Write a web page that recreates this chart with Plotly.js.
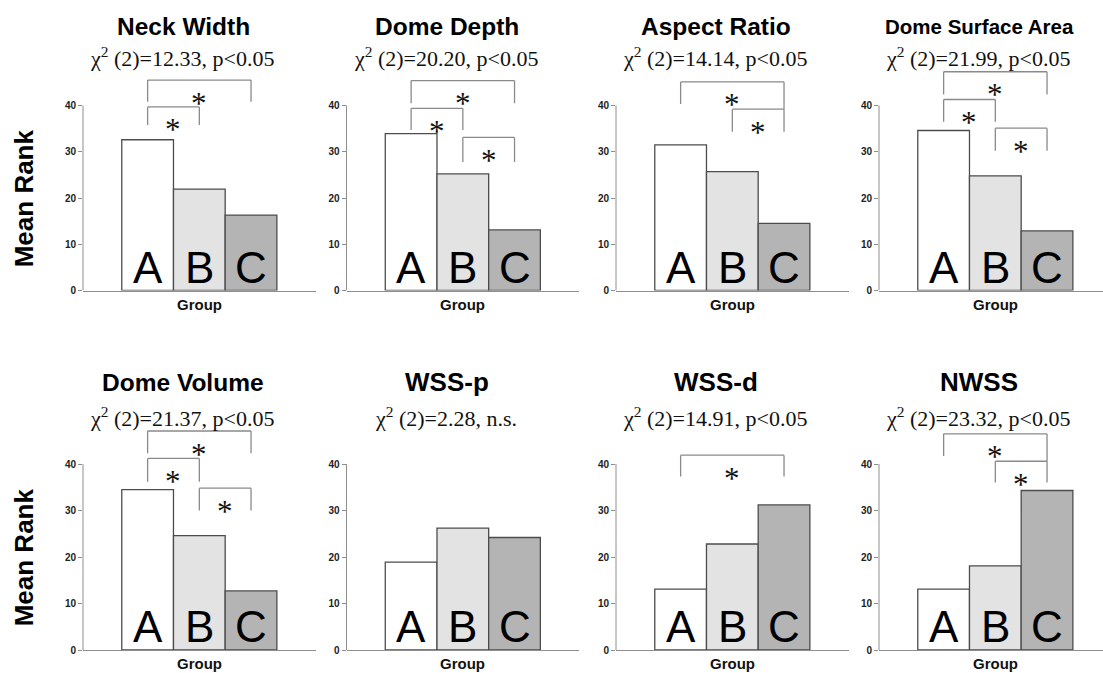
<!DOCTYPE html>
<html><head><meta charset="utf-8">
<script src="https://cdn.plot.ly/plotly-3.0.1.min.js"></script>
<style>html,body{margin:0;padding:0;background:#fff}#chart{width:1103px;height:673px}</style>
</head><body><div id="chart"></div>
<script>
// ---------- data ----------
const groups = ['A', 'B', 'C'];
const titles = ['Neck Width', 'Dome Depth', 'Aspect Ratio', 'Dome Surface Area',
                'Dome Volume', 'WSS-p', 'WSS-d', 'NWSS'];
const stats = ['χ<sup>2</sup> (2)=12.33, p&lt;0.05', 'χ<sup>2</sup> (2)=20.20, p&lt;0.05',
               'χ<sup>2</sup> (2)=14.14, p&lt;0.05', 'χ<sup>2</sup> (2)=21.99, p&lt;0.05',
               'χ<sup>2</sup> (2)=21.37, p&lt;0.05', 'χ<sup>2</sup> (2)=2.28, n.s.',
               'χ<sup>2</sup> (2)=14.91, p&lt;0.05', 'χ<sup>2</sup> (2)=23.32, p&lt;0.05'];
const neckWidth   = [32.6, 21.9, 16.3];
const domeDepth   = [33.9, 25.2, 13.1];
const aspectRatio = [31.5, 25.7, 14.5];
const domeSurface = [34.6, 24.8, 12.9];
const domeVolume  = [34.5, 24.6, 12.7];
const wssP        = [18.9, 26.2, 24.2];
const wssD        = [13.1, 22.8, 31.2];
const nwss        = [13.1, 18.1, 34.3];
const panelValues = [neckWidth, domeDepth, aspectRatio, domeSurface, domeVolume, wssP, wssD, nwss];
// significance brackets: [fromGroup, toGroup, top, leftLegEnd, rightLegEnd] (mean-rank units)
const brNeckWidth   = [[0, 2, 45.5, 40.8, 40.8], [0, 1, 39.7, 35.8, 35.8]];
const brDomeDepth   = [[0, 2, 45.4, 40.5, 40.5], [0, 1, 39.4, 34.7, 34.7], [1, 2, 33.1, 27.8, 27.8]];
const brAspectRatio = [[0, 2, 45.1, 40.3, 39.2], [1, 2, 39.2, 34.3, 34.3]];
const brDomeSurface = [[0, 2, 47.3, 42.4, 42.4], [0, 1, 41.3, 36.5, 36.5], [1, 2, 35.1, 30.2, 30.2]];
const brDomeVolume  = [[0, 2, 47.1, 42.3, 42.3], [0, 1, 41.2, 36.2, 36.2], [1, 2, 34.8, 30.0, 30.0]];
const brWssP        = [];
const brWssD        = [[0, 2, 41.9, 37.3, 37.3]];
const brNwss        = [[0, 2, 46.5, 41.7, 40.6], [1, 2, 40.6, 36.0, 36.0]];
const panelBrackets = [brNeckWidth, brDomeDepth, brAspectRatio, brDomeSurface,
                       brDomeVolume, brWssP, brWssD, brNwss];
const yTicks = [0, 10, 20, 30, 40];
const yLabel = 'Mean Rank';
const xLabel = 'Group';

// ---------- layout geometry ----------
const W = 1103, H = 673;
const colLeft = [83, 346.5, 616, 879];
const unit = 51.7;
const rowZero = [290.5, 650];
const rowTop = [66.2, 424.5];
const yMax = 48.5;
const titleMid = [26.4, 382.4];
const statMid = [56.6, 416.6];
const groupMid = [304.8, 663.8];
const barColors = ['#ffffff', '#e3e3e3', '#b4b4b4'];
const axisGray = '#8e8e8e';
const titleSizes = [24.5, 24.5, 24.5, 20.5, 24.5, 26, 26, 26];

const traces = [];
const layout = {
  width: W, height: H,
  margin: {l: 0, r: 0, t: 0, b: 0},
  paper_bgcolor: '#fff', plot_bgcolor: '#fff',
  showlegend: false, hovermode: false, bargap: 0,
  font: {family: 'Liberation Sans, Arial, sans-serif', color: '#000'},
  shapes: [], annotations: []
};

panelValues.forEach((vals, i) => {
  const c = i % 4, r = Math.floor(i / 4);
  const n = i === 0 ? '' : String(i + 1);
  const xa = 'x' + n, ya = 'y' + n;
  const x0 = colLeft[c];
  const x1 = Math.min(W, x0 + 4.5 * unit);
  traces.push({
    type: 'bar', x: groups, y: vals, xaxis: xa, yaxis: ya,
    marker: {color: barColors, line: {color: '#4c4c4c', width: 1.3}},
    hoverinfo: 'skip'
  });
  layout['xaxis' + n] = {
    domain: [x0 / W, x1 / W], range: [-1.25, -1.25 + (x1 - x0) / unit],
    type: 'category', anchor: ya, showticklabels: false, ticks: '',
    showline: true, linecolor: axisGray, linewidth: 1,
    showgrid: false, zeroline: false, fixedrange: true
  };
  layout['yaxis' + n] = {
    domain: [1 - rowZero[r] / H, 1 - rowTop[r] / H], range: [0, yMax],
    anchor: xa, tickvals: yTicks, ticks: 'outside', ticklen: 4, tickcolor: axisGray,
    tickfont: {family: 'Liberation Sans, Arial, sans-serif', size: 10, weight: 'bold', color: '#222'},
    showline: false, showgrid: false, zeroline: false, fixedrange: true
  };
  // y axis line only from 0 to 40
  layout.shapes.push({type: 'line', xref: xa + ' domain', yref: ya, x0: 0, x1: 0,
    y0: yTicks[0], y1: yTicks[yTicks.length - 1], line: {color: axisGray, width: 1}});
  // brackets + asterisks
  panelBrackets[i].forEach(b => {
    const [a, bb, top, le, re] = b;
    const ln = {color: '#8a8a8a', width: 1.3};
    layout.shapes.push({type: 'line', xref: xa, yref: ya, x0: a, x1: bb, y0: top, y1: top, line: ln});
    layout.shapes.push({type: 'line', xref: xa, yref: ya, x0: a, x1: a, y0: top, y1: le, line: ln});
    layout.shapes.push({type: 'line', xref: xa, yref: ya, x0: bb, x1: bb, y0: top, y1: re, line: ln});
    layout.annotations.push({xref: xa, yref: ya, x: (a + bb) / 2, y: top - 3.9, yshift: -5,
      text: '*', showarrow: false, yanchor: 'middle',
      font: {family: 'Liberation Serif, Times New Roman, serif', size: 31, color: '#111'}});
  });
  // letters inside bars
  groups.forEach(g => {
    layout.annotations.push({xref: xa, yref: ya, x: g, y: 0, yanchor: 'bottom', yshift: -3,
      text: g, showarrow: false,
      font: {family: 'Liberation Sans, Arial, sans-serif', size: 44, color: '#000'}});
  });
  // title
  layout.annotations.push({xref: xa, yref: 'paper', x: 1, xshift: -16, y: 1 - titleMid[r] / H,
    yanchor: 'middle', text: titles[i], showarrow: false,
    font: {family: 'Liberation Sans, Arial, sans-serif', size: titleSizes[i],
           weight: 'bold', color: '#000'}});
  layout.annotations.push({xref: xa, yref: 'paper', x: 1, xshift: -17, y: 1 - statMid[r] / H,
    yanchor: 'middle', text: stats[i], showarrow: false,
    font: {family: 'Liberation Serif, Times New Roman, serif', size: 22, color: '#111'}});
  // x label
  layout.annotations.push({xref: xa, yref: 'paper', x: 1, y: 1 - groupMid[r] / H,
    yanchor: 'middle', text: xLabel, showarrow: false,
    font: {family: 'Liberation Sans, Arial, sans-serif', size: 15, weight: 'bold', color: '#111'}});
});
// y labels
[0, 1].forEach(r => {
  layout.annotations.push({xref: 'paper', yref: 'paper', x: 24.3 / W,
    y: 1 - (rowZero[r] - 20 * ((rowZero[r] - rowTop[r]) / yMax)) / H,
    textangle: -90, text: yLabel, showarrow: false, xanchor: 'center', yanchor: 'middle',
    font: {family: 'Liberation Sans, Arial, sans-serif', size: 26, weight: 'bold', color: '#000'}});
});

Plotly.newPlot('chart', traces, layout, {staticPlot: true, displayModeBar: false});
</script></body></html>
